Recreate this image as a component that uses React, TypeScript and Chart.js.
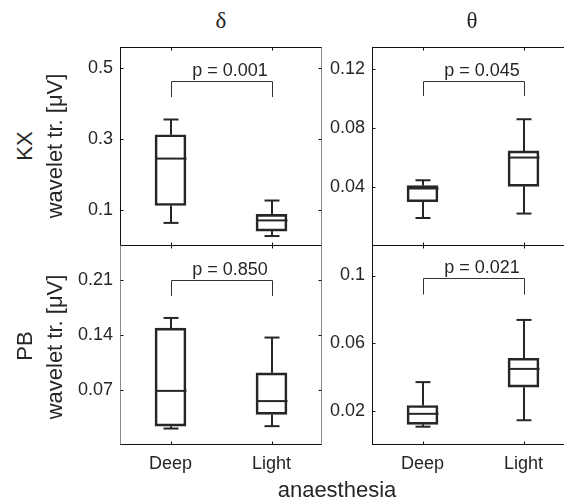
import React, { useEffect, useRef } from 'react';
import { Chart, registerables } from 'chart.js';

Chart.register(...registerables);

// ---------------- data ----------------
const groups = ['Deep', 'Light'];
// each box: [lower whisker, Q1, median, Q3, upper whisker]
const kxDeltaDeep = [0.065, 0.114, 0.246, 0.313, 0.356];
const kxDeltaLight = [0.028, 0.042, 0.072, 0.089, 0.128];
const kxThetaDeep = [0.019, 0.030, 0.039, 0.041, 0.0446];
const kxThetaLight = [0.022, 0.0405, 0.060, 0.0645, 0.086];
const pbDeltaDeep = [0.021, 0.024, 0.069, 0.149, 0.162];
const pbDeltaLight = [0.024, 0.039, 0.056, 0.092, 0.137];
const pbThetaDeep = [0.0108, 0.0122, 0.0184, 0.0233, 0.0371];
const pbThetaLight = [0.0146, 0.0341, 0.0449, 0.0512, 0.0738];

const kxDeltaTicks = [0.1, 0.3, 0.5];
const kxThetaTicks = [0.04, 0.08, 0.12];
const pbDeltaTicks = [0.07, 0.14, 0.21];
const pbThetaTicks = [0.02, 0.06, 0.1];

const kxDeltaMax = 0.56;
const kxThetaMax = 0.135;
const pbDeltaMax = 0.255;
const pbThetaMax = 0.118;

// significance bracket: [bar level, foot level]
const kxDeltaBracket = [0.463, 0.419];
const kxThetaBracket = [0.1122, 0.1017];
const pbDeltaBracket = [0.21, 0.19];
const pbThetaBracket = [0.0985, 0.0888];

const kxDeltaP = 'p = 0.001';
const kxThetaP = 'p = 0.045';
const pbDeltaP = 'p = 0.850';
const pbThetaP = 'p = 0.021';

const bandLabels = ['δ', 'θ'];
const rowLabels = ['KX', 'PB'];
const yUnitLabel = 'wavelet tr. [μV]';
const xTitle = 'anaesthesia';

// ---------------- style ----------------
const INK = '#262626';
const GRAY = '#8a8a8a';
const SANS = '"Liberation Sans", Arial, Helvetica, sans-serif';
const SERIF = '"Liberation Serif", "Times New Roman", serif';

type PanelProps = {
  left: number;
  top: number;
  width: number;
  height: number;
  bottomRow: boolean;
  deep: number[];
  light: number[];
  ticks: number[];
  yMax: number;
  bracket: number[];
  pText: string;
  leftColor: string;
  rightColor: string;
};

function BoxPanel(props: PanelProps) {
  const ref = useRef<HTMLCanvasElement>(null);
  const padL = 70;
  const padR = 10;
  const padT = 10;
  const axisH = props.bottomRow ? 40 : 0;
  const padB = props.bottomRow ? 0 : 10;
  const cw = props.width + padL + padR;
  const ch = props.height + padT + axisH + padB;

  useEffect(() => {
    const { deep, light, ticks, yMax, bracket, pText, bottomRow, leftColor, rightColor } = props;
    const stats = [deep, light];
    const canvas = ref.current!;

    const plugin = {
      id: 'boxplotPanel',
      afterDatasetsDraw(chart: any) {
        const { ctx, chartArea: a } = chart;
        const xs = chart.scales.x;
        const ys = chart.scales.y;
        const seg = (x1: number, y1: number, x2: number, y2: number) => {
          ctx.beginPath();
          ctx.moveTo(x1, y1);
          ctx.lineTo(x2, y2);
          ctx.stroke();
        };
        ctx.save();
        // whiskers, caps, medians
        ctx.strokeStyle = INK;
        ctx.lineWidth = 2;
        ctx.lineCap = 'butt';
        const boxHalf = 15.5;
        const capHalf = 7.5;
        stats.forEach((s, i) => {
          const cx = Math.round(xs.getPixelForValue(i));
          const [lo, q1, med, q3, hi] = s.map((v) => ys.getPixelForValue(v));
          seg(cx, q3, cx, hi);
          seg(cx, q1, cx, lo);
          seg(cx - capHalf, hi, cx + capHalf, hi);
          seg(cx - capHalf, lo, cx + capHalf, lo);
          seg(cx - boxHalf, med, cx + boxHalf, med);
        });
        // significance bracket
        const x0 = Math.round(xs.getPixelForValue(0)) + 0.5;
        const x1 = Math.round(xs.getPixelForValue(1)) + 0.5;
        const by = Math.round(ys.getPixelForValue(bracket[0])) + 0.5;
        const fy = ys.getPixelForValue(bracket[1]);
        ctx.lineWidth = 1;
        ctx.strokeStyle = '#333';
        ctx.beginPath();
        ctx.moveTo(x0, fy);
        ctx.lineTo(x0, by);
        ctx.lineTo(x1, by);
        ctx.lineTo(x1, fy);
        ctx.stroke();
        ctx.fillStyle = INK;
        ctx.font = `18px ${SANS}`;
        ctx.textAlign = 'center';
        ctx.textBaseline = 'alphabetic';
        ctx.fillText(pText, (x0 + x1) / 2 + 8, by - 6);
        // frame
        const L = Math.round(a.left) + 0.5;
        const R = Math.round(a.right) - 0.5;
        const T = Math.round(a.top) + 0.5;
        const B = Math.round(a.bottom) - 0.5;
        ctx.lineWidth = 1;
        ctx.strokeStyle = '#111';
        seg(L - 0.5, T, R + 0.5, T);
        seg(L - 0.5, B, R + 0.5, B);
        ctx.strokeStyle = leftColor;
        seg(L, T, L, B);
        ctx.strokeStyle = rightColor;
        seg(R, T, R, B);
        // inward tick marks
        ctx.strokeStyle = '#111';
        ticks.forEach((t) => {
          const ty = Math.round(ys.getPixelForValue(t)) + 0.5;
          seg(L, ty, L + 3, ty);
          seg(R, ty, R - 3, ty);
        });
        groups.forEach((_, i) => {
          const tx = Math.round(xs.getPixelForValue(i)) + 0.5;
          seg(tx, B, tx, B - 3);
          seg(tx, T, tx, T + 3);
        });
        ctx.restore();
      },
    };

    const chart = new Chart(canvas, {
      type: 'bar',
      data: {
        labels: groups,
        datasets: [
          {
            data: stats.map((s) => [s[1], s[3]]) as any,
            backgroundColor: 'rgba(0,0,0,0)',
            borderColor: INK,
            borderWidth: 2,
            borderSkipped: false,
            barThickness: 31,
          },
        ],
      },
      options: {
        animation: false,
        responsive: false,
        events: [],
        layout: { padding: { left: 0, right: padR, top: padT, bottom: padB } },
        plugins: { legend: { display: false }, tooltip: { enabled: false } },
        scales: {
          x: {
            type: 'category',
            offset: true,
            grid: { display: false, drawTicks: false },
            border: { display: false },
            ticks: {
              display: bottomRow,
              font: { family: SANS, size: 18 },
              color: INK,
              padding: 8,
              maxRotation: 0,
            },
            afterFit: (scale: any) => {
              scale.height = axisH;
              scale.paddingLeft = 0;
              scale.paddingRight = 0;
            },
          },
          y: {
            type: 'linear',
            min: 0,
            max: yMax,
            grid: { display: false, drawTicks: false },
            border: { display: false },
            afterBuildTicks: (scale: any) => {
              scale.ticks = ticks.map((v) => ({ value: v }));
            },
            ticks: {
              font: { family: SANS, size: 18 },
              color: INK,
              padding: 7,
              callback: (v: any) => String(v),
            },
            afterFit: (scale: any) => {
              scale.width = padL;
              scale.paddingTop = 0;
              scale.paddingBottom = 0;
            },
          },
        },
      } as any,
      plugins: [plugin as any],
    });
    return () => chart.destroy();
  }, []);

  return (
    <canvas
      ref={ref}
      width={cw}
      height={ch}
      style={{
        position: 'absolute',
        left: props.left - padL,
        top: props.top - padT,
        width: cw,
        height: ch,
      }}
    />
  );
}

const labelBase: React.CSSProperties = {
  position: 'absolute',
  whiteSpace: 'nowrap',
  lineHeight: 1,
  color: INK,
  fontFamily: SANS,
};

function Rotated(props: { x: number; y: number; size: number; text: string }) {
  return (
    <div
      style={{
        ...labelBase,
        left: props.x,
        top: props.y,
        fontSize: props.size,
        transform: 'translate(-50%, -50%) rotate(-90deg)',
      }}
    >
      {props.text}
    </div>
  );
}

function Centered(props: { x: number; y: number; size: number; text: string; family?: string }) {
  return (
    <div
      style={{
        ...labelBase,
        left: props.x,
        top: props.y,
        fontSize: props.size,
        fontFamily: props.family || SANS,
        transform: 'translate(-50%, -50%)',
      }}
    >
      {props.text}
    </div>
  );
}

export default function App() {
  const colL = 120;
  const colR = 372;
  const rowT = 47;
  const rowB = 245;
  const w = 202;
  const hTop = 199;
  const hBot = 200;
  return (
    <div
      style={{
        position: 'fixed',
        left: 0,
        top: 0,
        width: 564,
        height: 501,
        overflow: 'hidden',
        background: '#fff',
      }}
    >
      <BoxPanel left={colL} top={rowT} width={w} height={hTop} bottomRow={false}
        deep={kxDeltaDeep} light={kxDeltaLight} ticks={kxDeltaTicks} yMax={kxDeltaMax}
        bracket={kxDeltaBracket} pText={kxDeltaP} leftColor="#111" rightColor={GRAY} />
      <BoxPanel left={colR} top={rowT} width={w} height={hTop} bottomRow={false}
        deep={kxThetaDeep} light={kxThetaLight} ticks={kxThetaTicks} yMax={kxThetaMax}
        bracket={kxThetaBracket} pText={kxThetaP} leftColor="#111" rightColor="#111" />
      <BoxPanel left={colL} top={rowB} width={w} height={hBot} bottomRow={true}
        deep={pbDeltaDeep} light={pbDeltaLight} ticks={pbDeltaTicks} yMax={pbDeltaMax}
        bracket={pbDeltaBracket} pText={pbDeltaP} leftColor={GRAY} rightColor={GRAY} />
      <BoxPanel left={colR} top={rowB} width={w} height={hBot} bottomRow={true}
        deep={pbThetaDeep} light={pbThetaLight} ticks={pbThetaTicks} yMax={pbThetaMax}
        bracket={pbThetaBracket} pText={pbThetaP} leftColor="#111" rightColor="#111" />

      <Centered x={221} y={20} size={23} text={bandLabels[0]} family={SERIF} />
      <Centered x={472} y={20} size={23} text={bandLabels[1]} family={SERIF} />

      <Rotated x={25} y={146} size={22} text={rowLabels[0]} />
      <Rotated x={55} y={146} size={22} text={yUnitLabel} />
      <Rotated x={25} y={346} size={22} text={rowLabels[1]} />
      <Rotated x={55} y={347} size={22} text={yUnitLabel} />

      <Centered x={337} y={490} size={22} text={xTitle} />
    </div>
  );
}
